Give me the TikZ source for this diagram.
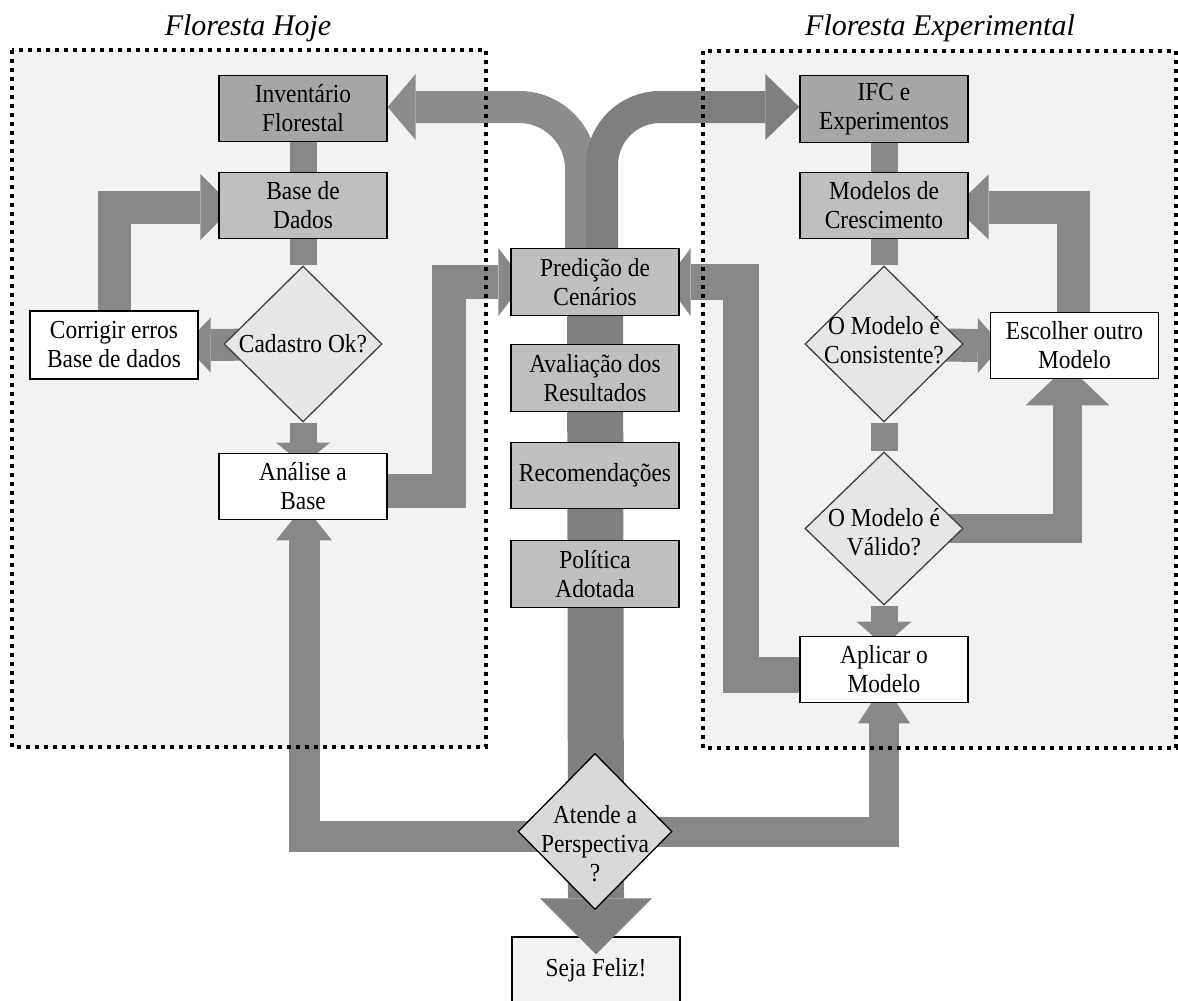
\documentclass[tikz,border=0pt]{standalone}
\usepackage{fontspec}
\setmainfont{Liberation Serif}[FakeStretch=0.9]
\newfontfamily\titlefont{Liberation Serif}
\usetikzlibrary{shapes.geometric,calc}
\pgfdeclarelayer{panelL}
\pgfdeclarelayer{sejaL}
\pgfdeclarelayer{bandL}
\pgfdeclarelayer{borderL}
\pgfsetlayers{panelL,sejaL,bandL,borderL,main}
\definecolor{panelgray}{HTML}{F2F2F2}
\definecolor{boxdark}{HTML}{A6A6A6}
\definecolor{boxmid}{HTML}{BFBFBF}
\definecolor{diafill}{HTML}{E6E6E6}
\definecolor{diafillB}{HTML}{D9D9D9}
\definecolor{bandgray}{HTML}{888888}
\definecolor{stemgray}{HTML}{808080}
\definecolor{curveL}{HTML}{8C8C8C}
\definecolor{curveR}{HTML}{7F7F7F}
\definecolor{diaedge}{HTML}{404040}
\newcommand\bodysize{\fontsize{26}{29}\selectfont}
\begin{document}
\begin{tikzpicture}[x=1pt,y=-1pt,
  box/.style={draw=black, line width=1.3pt, minimum width=168pt, minimum height=66.5pt, inner sep=0pt, align=center, font=\bodysize},
  darkbox/.style={box, fill=boxdark},
  midbox/.style={box, fill=boxmid},
  whitebox/.style={box, fill=white},
  dia/.style={diamond, draw=diaedge, line width=1.3pt, fill=diafill, minimum width=158pt, minimum height=156pt, inner sep=0pt},
  dtext/.style={align=center, font=\bodysize, inner sep=0pt},
  band/.style={draw=bandgray, line width=#1, line join=miter},
  hd/.style={fill=bandgray},
  dotline/.style={draw=black, line width=3.6pt, dash pattern=on 3.6pt off 5.4pt},
  titletext/.style={font=\titlefont\fontsize{30}{34}\selectfont\itshape}
]
\useasboundingbox (0,0) rectangle (1178,1001);

% panels
\begin{pgfonlayer}{panelL}
\fill[panelgray] (12,50) rectangle (486,747);
\fill[panelgray] (703,51) rectangle (1176,748);
\end{pgfonlayer}
\begin{pgfonlayer}{borderL}
\draw[dotline] (12,50) rectangle (486,747);
\draw[dotline] (703,51) rectangle (1176,748);
\end{pgfonlayer}

% titles
\node[titletext] (tHoje) at (248,28) {Floresta Hoje};
\node[titletext] (tExp) at (940,28) {Floresta Experimental};

% left panel
\node[darkbox] (inv) at (303,108.5) {Inventário\\Florestal};
\node[midbox] (base) at (303,205.5) {Base de\\Dados};
\node[dia] (cad) at (303,344) {};
\node[dtext] (cadT) at (cad) {Cadastro Ok?};
\node[whitebox, minimum height=68pt] (corr) at (114,345) {Corrigir erros\\Base de dados};
\node[whitebox] (anal) at (303,486.5) {Análise a\\Base};

% centre column
\node[midbox] (pred) at (595,282) {Predição de\\Cenários};
\node[midbox] (aval) at (595,378) {Avaliação dos\\Resultados};
\node[midbox] (rec) at (595,475.5) {Recomendações};
\node[midbox] (pol) at (595,574) {Política\\Adotada};

% right panel
\node[darkbox] (ifc) at (884,109) {IFC e\\Experimentos};
\node[midbox] (mod) at (884,205.5) {Modelos de\\Crescimento};
\node[dia] (cons) at (884,344) {};
\node[dtext] (consT) at ($(cons)+(0,-4)$) {O Modelo é\\Consistente?};
\node[whitebox] (esc) at (1074.5,345.5) {Escolher outro\\Modelo};
\node[dia, minimum height=153pt] (val) at (884,528.5) {};
\node[dtext] (valT) at ($(val)+(0,4)$) {O Modelo é\\Válido?};
\node[whitebox] (apl) at (884,669.5) {Aplicar o\\Modelo};

% bottom
\node[dia, fill=diafillB, draw=black, minimum width=154pt] (atd) at (595,831.5) {};
\node[dtext] (atdT) at ($(atd)+(0,12)$) {Atende a\\Perspectiva\\?};
\begin{pgfonlayer}{sejaL}
\node[box, fill=panelgray, minimum height=66pt] (seja) at (596,970) {Seja Feliz!};
\end{pgfonlayer}

% bands
\begin{pgfonlayer}{bandL}
% top curved arrows
\draw[band=32pt, draw=curveL, rounded corners=62pt] ($(pred.north)+(-14,0)$) |- ($(inv.east)+(28,-1.5)$);
\fill[curveL] ($(inv.east)+(0,-1.5)$) -- ++(28,-33) -- ++(0,66) -- cycle;
\draw[band=32pt, draw=curveR, rounded corners=58pt] ($(pred.north)+(7,0)$) |- ($(ifc.west)+(-34,-2)$);
\fill[curveR] ($(ifc.west)+(0,-2)$) -- ++(-34,-33) -- ++(0,66) -- cycle;
% central stem
\draw[band=56pt, draw=stemgray] (pred.center) -- ($(seja.north)+(0,-38)$);
\fill[stemgray] ($(seja.north)+(-56,-38)$) -- ($(seja.north)+(56,-38)$) -- ($(seja.north)+(0,18)$) -- cycle;
% left panel
\draw[band=27pt] (inv.south) -- (base.north);
\draw[band=27pt] (base.south) -- (cad.north);
\draw[band=27pt] (cad.south) -- ($(anal.north)+(0,-10)$);
\fill[hd] ($(anal.north)+(-27,-10)$) -- ($(anal.north)+(27,-10)$) -- ($(anal.north)+(0,12)$) -- cycle;
\draw[band=32pt] (cad.center) -- ($(corr.east)+(12,0)$);
\fill[hd] ($(corr.east)+(12,-27.5)$) -- ($(corr.east)+(12,27.5)$) -- ($(corr.east)+(-14,0)$) -- cycle;
\draw[band=33pt] (corr.north) |- ($(base.west)+(-18,1.5)$);
\fill[hd] ($(base.west)+(-18,-31.5)$) -- ($(base.west)+(-18,34.5)$) -- ($(base.west)+(15,1.5)$) -- cycle;
% to Predicao from left
\draw[band=34pt] ($(anal.east)+(0,4)$) -| ($(pred.west)+(-61,0)$) -- ($(pred.west)+(-12,0)$);
\fill[hd] ($(pred.west)+(-12,-34)$) -- ($(pred.west)+(-12,34)$) -- ($(pred.west)+(14,0)$) -- cycle;
% to Predicao from right
\draw[band=36pt] ($(apl.west)+(0,5)$) -| ($(pred.east)+(61,0)$) -- ($(pred.east)+(11,0)$);
\fill[hd] ($(pred.east)+(11,-34)$) -- ($(pred.east)+(11,34)$) -- ($(pred.east)+(-14,0)$) -- cycle;
% bottom loops
\draw[band=31pt] ($(atd.center)+(0,5)$) -| ($(anal.south)+(1,20)$);
\fill[hd] ($(anal.south)+(-27,20)$) -- ($(anal.south)+(29,20)$) -- ($(anal.south)+(1,-15)$) -- cycle;
\draw[band=30pt] (atd.center) -| ($(apl.south)+(0,20)$);
\fill[hd] ($(apl.south)+(-26,20)$) -- ($(apl.south)+(26,20)$) -- ($(apl.south)+(0,-20)$) -- cycle;
% right panel
\draw[band=27pt] (ifc.south) -- (mod.north);
\draw[band=27pt] (mod.south) -- (cons.north);
\draw[band=27pt] (cons.south) -- (val.north);
\draw[band=27pt] (val.south) -- ($(apl.north)+(0,-14)$);
\fill[hd] ($(apl.north)+(-27.5,-14)$) -- ($(apl.north)+(27.5,-14)$) -- ($(apl.north)+(0,10)$) -- cycle;
\draw[band=33pt] (cons.center) -- ($(esc.west)+(-12,0)$);
\fill[hd] ($(esc.west)+(-12,-27.5)$) -- ($(esc.west)+(-12,27.5)$) -- ($(esc.west)+(12,0)$) -- cycle;
\draw[band=33pt] ($(esc.north)+(-1.5,0)$) |- ($(mod.east)+(20,1.5)$);
\fill[hd] ($(mod.east)+(20,-31)$) -- ($(mod.east)+(20,34)$) -- ($(mod.east)+(-14,1.5)$) -- cycle;
\draw[band=29pt] (val.center) -| ($(esc.south)+(-7,26)$);
\fill[hd] ($(esc.south)+(-49,26)$) -- ($(esc.south)+(35,26)$) -- ($(esc.south)+(-7,-14)$) -- cycle;
\end{pgfonlayer}
\end{tikzpicture}
\end{document}
